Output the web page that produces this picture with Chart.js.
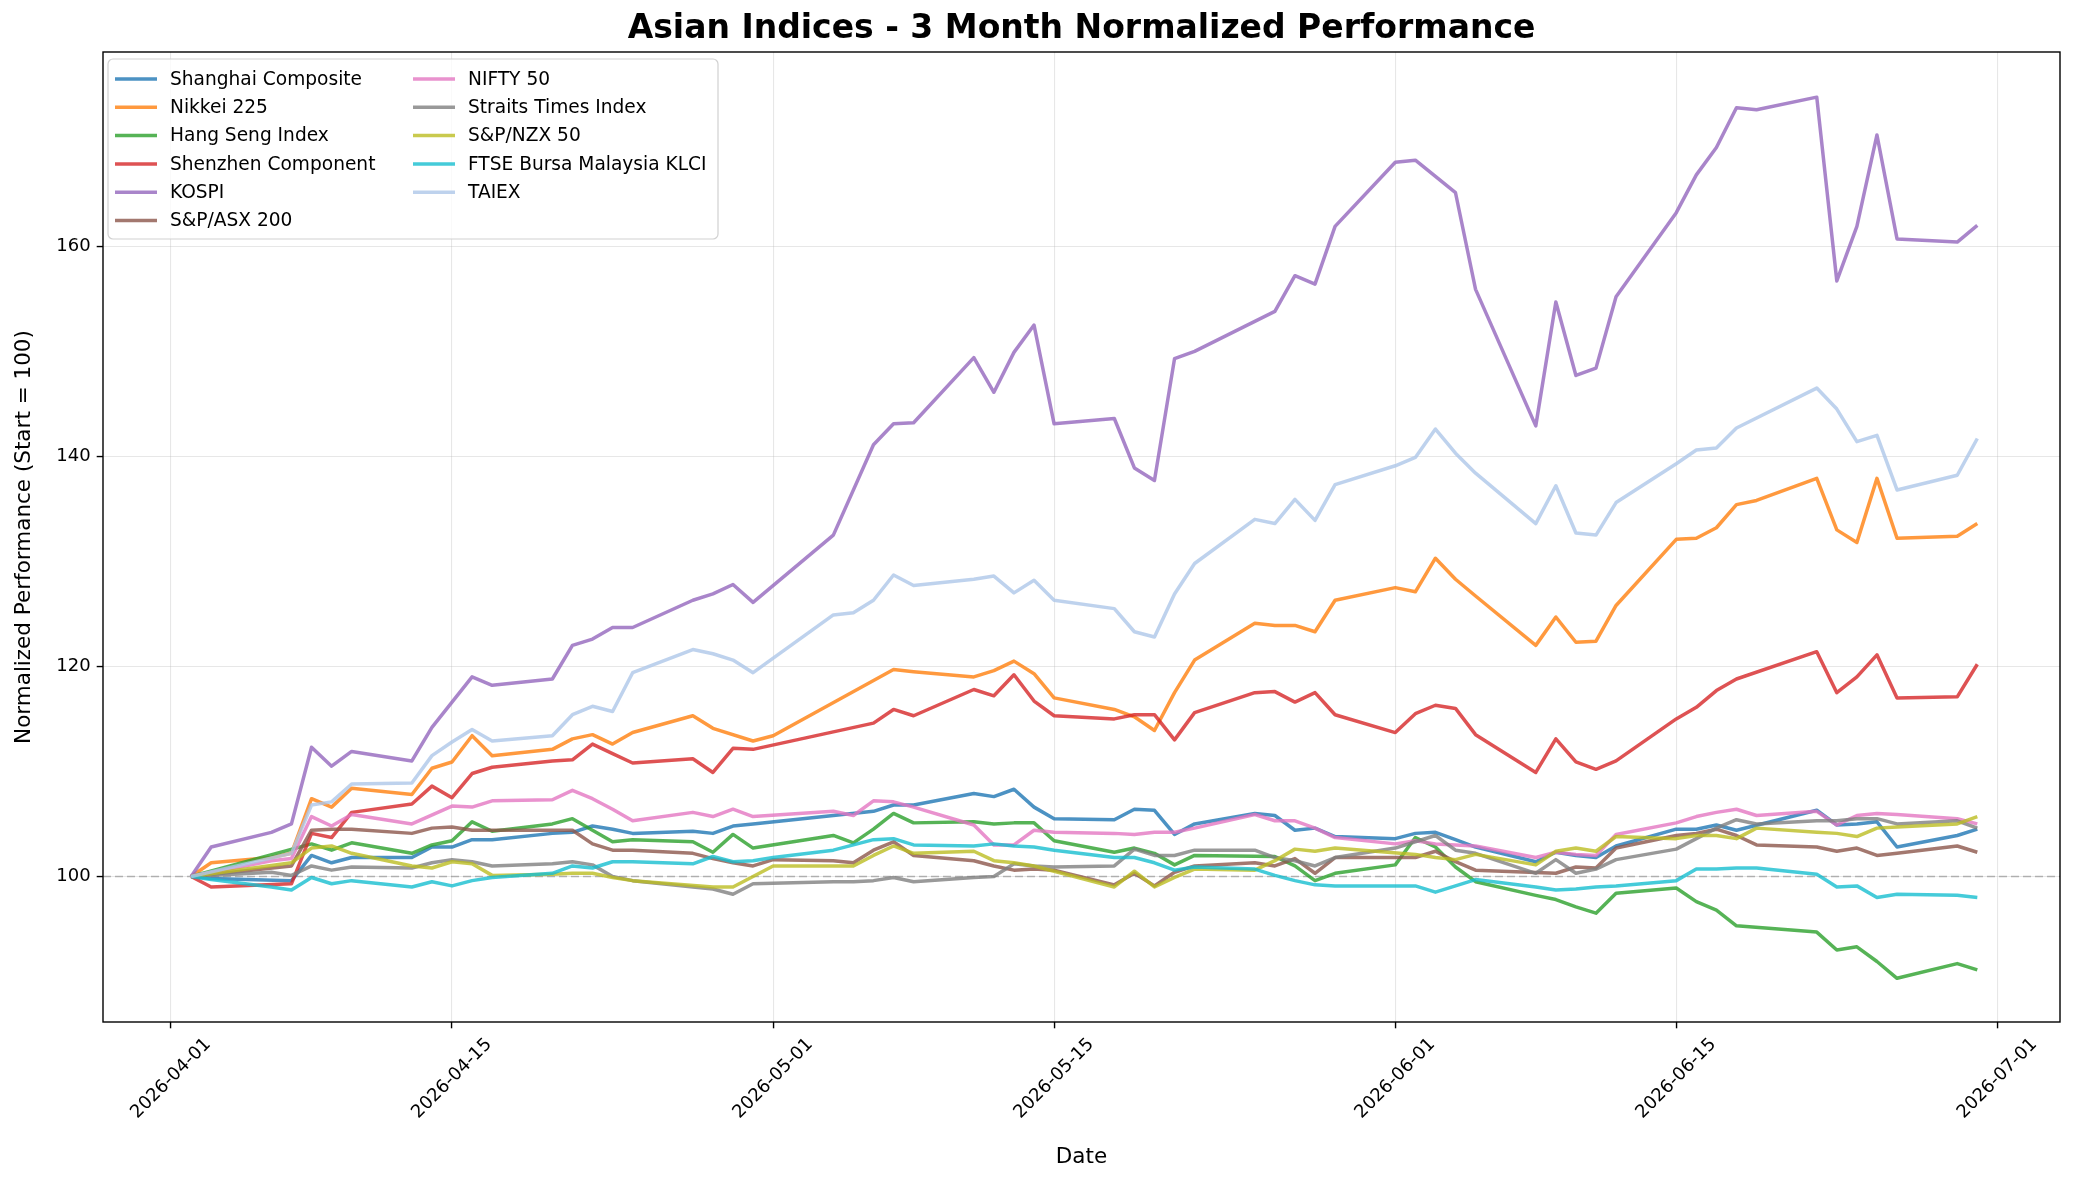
<!DOCTYPE html>
<html>
<head>
<meta charset="utf-8">
<script src="https://cdn.jsdelivr.net/npm/chart.js@4.4.1/dist/chart.umd.min.js"></script>
<style>
  body { margin: 0; background: #ffffff; }
  #chart { display: block; }
</style>
</head>
<body>
<canvas id="chart" width="2082" height="1184"></canvas>
<script>
// trading days (weekdays), null = market closed that day
const dates = [
    '2026-04-02', '2026-04-03', '2026-04-06', '2026-04-07', '2026-04-08', '2026-04-09', '2026-04-10',
    '2026-04-13', '2026-04-14', '2026-04-15', '2026-04-16', '2026-04-17', '2026-04-20', '2026-04-21',
    '2026-04-22', '2026-04-23', '2026-04-24', '2026-04-27', '2026-04-28', '2026-04-29', '2026-04-30',
    '2026-05-01', '2026-05-04', '2026-05-05', '2026-05-06', '2026-05-07', '2026-05-08', '2026-05-11',
    '2026-05-12', '2026-05-13', '2026-05-14', '2026-05-15', '2026-05-18', '2026-05-19', '2026-05-20',
    '2026-05-21', '2026-05-22', '2026-05-25', '2026-05-26', '2026-05-27', '2026-05-28', '2026-05-29',
    '2026-06-01', '2026-06-02', '2026-06-03', '2026-06-04', '2026-06-05', '2026-06-08', '2026-06-09',
    '2026-06-10', '2026-06-11', '2026-06-12', '2026-06-15', '2026-06-16', '2026-06-17', '2026-06-18',
    '2026-06-19', '2026-06-22', '2026-06-23', '2026-06-24', '2026-06-25', '2026-06-26', '2026-06-29',
    '2026-06-30'
];

const names = [
    'Shanghai Composite', 'Nikkei 225', 'Hang Seng Index', 'Shenzhen Component', 'KOSPI',
    'S&P/ASX 200', 'NIFTY 50', 'Straits Times Index', 'S&P/NZX 50', 'FTSE Bursa Malaysia KLCI', 'TAIEX'
];

const shanghai = [
    100, 99.8, null, 99.6, 102.0, 101.3, 101.8, 101.8, 102.8, 102.8, 103.5, 103.5, 104.1, 104.2, 104.8, 104.5, 104.1, 104.3, 104.1, 104.8, 105.0,
    null, null, null, 106.2, 106.8, 106.8, 107.9, 107.6, 108.3, 106.6, 105.5, 105.4, 106.4, 106.3, 104.0, 105.0, 106.0, 105.8, 104.4, 104.6, 103.8,
    103.6, 104.1, 104.2, 103.5, 102.8, 101.4, 102.3, 102.0, 101.8, 102.9, 104.5, 104.5, 104.9, 104.4, null, 106.3, 104.9, 105.0, 105.2, 102.8, 103.9, 104.5
];
const nikkei = [
    100, 101.3, 101.8, 102.2, 107.4, 106.6, 108.4, 107.8, 110.3, 110.9, 113.4, 111.5, 112.1, 113.1, 113.5, 112.6, 113.7, 115.3, 114.1, null, 112.9,
    113.4, null, null, null, 119.7, 119.5, 119.0, 119.6, 120.5, 119.3, 117.0, 115.9, 115.2, 113.9, 117.5, 120.6, 124.1, 123.9, 123.9, 123.3, 126.3,
    127.5, 127.1, 130.3, 128.3, 126.7, 122.0, 124.7, 122.3, 122.4, 125.8, 132.1, 132.2, 133.2, 135.4, 135.8, 137.9, 133.0, 131.8, 137.9, 132.2, 132.4, 133.6
];
const hangSeng = [
    100, null, null, null, 103.1, 102.5, 103.2, 102.2, 103.0, 103.4, 105.2, 104.3, 105.0, 105.5, 104.4, 103.3, 103.5, 103.3, 102.3, 104.0, 102.7,
    null, 103.9, 103.2, 104.5, 106.0, 105.1, 105.2, 105.0, 105.1, 105.1, 103.4, 102.3, 102.7, 102.2, 101.1, 102.0, null, 101.9, 101.0, 99.6, 100.3,
    101.1, 103.7, 102.8, 100.9, 99.5, 98.2, 97.8, 97.1, 96.5, 98.4, 98.9, 97.6, 96.8, 95.3, null, 94.7, 93.0, 93.3, 91.9, 90.3, 91.7, 91.1
];
const shenzhen = [
    100, 99.0, null, 99.3, 104.1, 103.7, 106.1, 106.9, 108.6, 107.5, 109.8, 110.4, 111.0, 111.1, 112.6, 111.7, 110.8, 111.2, 109.9, 112.2, 112.1,
    null, null, null, 114.6, 115.9, 115.3, 117.8, 117.2, 119.2, 116.7, 115.3, 115.0, 115.4, 115.4, 113.0, 115.6, 117.5, 117.6, 116.6, 117.5, 115.4,
    113.7, 115.5, 116.3, 116.0, 113.5, 109.9, 113.1, 110.9, 110.2, 111.0, 115.0, 116.1, 117.7, 118.8, null, 121.4, 117.5, 119.0, 121.1, 117.0, 117.1, 120.2
];
const kospi = [
    100, 102.8, 104.2, 105.0, 112.3, 110.5, 111.9, 111.0, 114.2, 116.6, 119.0, 118.2, 118.8, 122.0, 122.6, 123.7, 123.7, 126.3, 126.9, 127.8, 126.1,
    null, 132.5, null, 141.1, 143.1, 143.2, 149.4, 146.1, 149.9, 152.5, 143.1, 143.6, 138.9, 137.7, 149.3, 150.0, null, 153.8, 157.2, 156.4, 161.9,
    168.0, 168.2, null, 165.1, 155.9, 142.9, 154.7, 147.7, 148.4, 155.2, 163.2, 166.8, 169.4, 173.2, 173.0, 174.2, 156.7, 161.9, 170.6, 160.7, 160.4, 162.0
];
const asx200 = [
    100, null, null, 101.0, 104.4, 104.5, 104.5, 104.1, 104.6, 104.7, 104.4, 104.4, 104.4, 104.4, 103.1, 102.5, 102.5, 102.2, 101.7, 101.3, 101.0,
    101.6, 101.5, 101.3, 102.5, 103.3, 102.0, 101.5, 101.0, 100.6, 100.7, 100.6, 99.2, 100.3, 99.1, 100.4, 101.0, 101.3, 101.0, 101.7, 100.3, 101.8,
    101.8, 101.8, 102.4, 101.4, 100.6, null, 100.3, 100.9, 100.8, 102.7, 103.9, 104.1, 104.5, 103.9, 103.0, 102.8, 102.4, 102.7, 102.0, 102.2, 102.9, 102.3
];
const nifty50 = [
    100, null, 101.5, 101.7, 105.7, 104.8, 105.9, 105.0, null, 106.7, 106.6, 107.2, 107.3, 108.2, 107.4, 106.4, 105.3, 106.1, 105.7, 106.4, 105.7,
    null, 106.2, 105.8, 107.2, 107.1, 106.6, 104.9, 103.0, 103.0, 104.4, 104.2, 104.1, 104.0, 104.2, 104.2, 104.6, 105.9, 105.3, 105.3, 104.6, 103.7,
    103.1, 103.4, 103.1, 103.0, 102.9, 101.8, 102.3, 102.1, 102.0, 104.0, 105.1, 105.7, 106.1, 106.4, 105.8, 106.2, 104.9, 105.8, 106.0, 105.9, 105.5, 105.0
];
const straitsTimes = [
    100, null, 100.4, 100.1, 101.0, 100.6, 100.9, 100.8, 101.3, 101.6, 101.4, 101.0, 101.2, 101.4, 101.1, 100.0, 99.6, 99.0, 98.8, 98.3, 99.3,
    null, 99.5, 99.5, 99.6, 99.9, 99.5, 99.9, 100.0, 101.2, 101.0, 100.9, 101.0, 102.6, 102.0, 102.0, 102.5, 102.5, 101.8, 101.5, 101.0, 101.8,
    102.7, 103.3, 103.9, 102.5, 102.2, 100.3, 101.6, 100.3, 100.7, 101.6, 102.6, 103.6, 104.6, 105.4, 105.0, 105.3, 105.3, 105.5, 105.5, 105.0, 105.3, 104.6
];
const nzx50 = [
    100, null, null, 101.3, 102.7, 102.9, 102.2, 101.0, 100.8, 101.4, 101.2, 100.1, 100.2, 100.3, 100.3, 99.9, 99.6, null, 99.0, 99.0, 100.0,
    101.0, 101.0, 101.0, 102.0, 102.9, 102.2, 102.4, 101.5, 101.3, 101.0, 100.5, 99.0, 100.5, 99.0, 99.9, 100.7, 100.6, 101.5, 102.6, 102.4, 102.7,
    null, 102.1, 101.8, 101.6, 102.1, 101.1, 102.4, 102.7, 102.4, 103.8, 103.6, 103.9, 103.9, 103.6, 104.6, 104.2, 104.1, 103.8, 104.6, 104.7, 105.0, 105.7
];
const klci = [
    100, 99.7, 99.0, 98.7, 99.9, 99.3, 99.6, 99.0, 99.5, 99.1, 99.6, 99.9, 100.3, 101.0, 100.8, 101.4, 101.4, 101.2, 101.9, 101.4, 101.5,
    101.8, 102.5, 103.0, 103.5, 103.6, 103.0, 102.9, 103.1, 102.9, 102.8, 102.5, 101.8, 101.8, 101.3, 100.6, 100.9, 100.7, 100.1, 99.6, 99.2, 99.1,
    99.1, 99.1, 98.5, 99.1, 99.7, 99.0, 98.7, 98.8, 99.0, 99.1, 99.6, 100.7, 100.7, 100.8, 100.8, 100.2, 99.0, 99.1, 98.0, 98.3, 98.2, 98.0
];
const taiex = [
    100, null, null, 102.2, 106.8, 107.1, 108.8, 108.9, 111.5, 112.8, 114.0, 112.9, 113.4, 115.4, 116.2, 115.7, 119.4, 121.6, 121.2, 120.6, 119.4,
    null, 124.9, 125.1, 126.3, 128.7, 127.7, 128.3, 128.6, 127.0, 128.2, 126.3, 125.5, 123.3, 122.8, 126.9, 129.8, 134.0, 133.6, 135.9, 133.9, 137.3,
    139.1, 139.9, 142.6, 140.3, 138.4, 133.6, 137.2, 132.7, 132.5, 135.6, 139.3, 140.6, 140.8, 142.7, null, 146.5, 144.5, 141.4, 142.0, 136.8, 138.2, 141.7
];

const seriesValues = [shanghai, nikkei, hangSeng, shenzhen, kospi, asx200, nifty50, straitsTimes, nzx50, klci, taiex];
const colors = ['#1f77b4', '#ff7f0e', '#2ca02c', '#d62728', '#9467bd', '#8c564b', '#e377c2', '#7f7f7f', '#bcbd22', '#17becf', '#aec7e8'];

const xTickLabels = ['2026-04-01', '2026-04-15', '2026-05-01', '2026-05-15', '2026-06-01', '2026-06-15', '2026-07-01'];
const yTicks = [100, 120, 140, 160];

// days counted from 2026-04-01
const origin = Date.UTC(2026, 3, 1);
const dayOf = (s) => {
    const p = s.split('-').map(Number);
    return (Date.UTC(p[0], p[1] - 1, p[2]) - origin) / 86400000;
};

const withAlpha = (hex, a) => {
    const n = parseInt(hex.slice(1), 16);
    return `rgba(${(n >> 16) & 255}, ${(n >> 8) & 255}, ${n & 255}, ${a})`;
};

const FONT = '"DejaVu Sans", sans-serif';

const datasets = names.map((name, i) => ({
    label: name,
    data: dates.map((d, j) => ({ x: dayOf(d), y: seriesValues[i][j] })),
    borderColor: withAlpha(colors[i], 0.8),
    backgroundColor: withAlpha(colors[i], 0.8),
    borderWidth: 3.5,
    pointRadius: 0,
    tension: 0,
    spanGaps: true,
    borderJoinStyle: 'round',
    order: names.length - 1 - i
}));

// extra drawing: reference line, frame, titles, rotated date labels, legend
const decor = {
    id: 'decor',
    beforeDatasetsDraw(chart) {
        const { ctx, chartArea: a, scales: { y } } = chart;
        const py = y.getPixelForValue(100);
        ctx.save();
        ctx.strokeStyle = 'rgba(128, 128, 128, 0.55)';
        ctx.lineWidth = 1.6;
        ctx.setLineDash([8, 4]);
        ctx.beginPath();
        ctx.moveTo(a.left, py);
        ctx.lineTo(a.right, py);
        ctx.stroke();
        ctx.restore();
    },
    afterDraw(chart) {
        const { ctx, chartArea: a, scales: { x } } = chart;
        ctx.save();

        // frame
        ctx.strokeStyle = '#000';
        ctx.lineWidth = 1.4;
        ctx.strokeRect(a.left, a.top, a.right - a.left, a.bottom - a.top);

        ctx.fillStyle = '#000';
        const cx = (a.left + a.right) / 2;

        // title
        ctx.font = `bold 33px ${FONT}`;
        ctx.textAlign = 'center';
        ctx.textBaseline = 'middle';
        ctx.fillText('Asian Indices - 3 Month Normalized Performance', cx, 29);

        // axis labels
        ctx.font = `21.5px ${FONT}`;
        ctx.fillText('Date', cx, 1157);
        ctx.save();
        ctx.translate(24, (a.top + a.bottom) / 2);
        ctx.rotate(-Math.PI / 2);
        ctx.fillText('Normalized Performance (Start = 100)', 0, 0);
        ctx.restore();

        // x tick labels, rotated 45 degrees, centered under the tick
        ctx.font = `18px ${FONT}`;
        xTickLabels.forEach((lab) => {
            const px = x.getPixelForValue(dayOf(lab));
            const w = ctx.measureText(lab).width;
            const h = 20;
            const half = (w + h) * Math.SQRT1_2 / 2;
            ctx.save();
            ctx.translate(px, a.bottom + 12.6 + half);
            ctx.rotate(-Math.PI / 4);
            ctx.fillText(lab, 0, 0);
            ctx.restore();
        });

        // legend, two columns
        const lx = a.left + 5, ly = a.top + 7, lw = 610, lh = 180;
        ctx.beginPath();
        ctx.roundRect(lx, ly, lw, lh, 5);
        ctx.fillStyle = 'rgba(255, 255, 255, 0.8)';
        ctx.fill();
        ctx.strokeStyle = 'rgba(204, 204, 204, 0.9)';
        ctx.lineWidth = 1.2;
        ctx.stroke();

        ctx.font = `18.6px ${FONT}`;
        ctx.textAlign = 'left';
        ctx.textBaseline = 'middle';
        names.forEach((name, i) => {
            const col = i < 6 ? 0 : 1;
            const row = i < 6 ? i : i - 6;
            const sx = col === 0 ? 115 : 413;
            const sy = 79 + row * 28.3;
            ctx.strokeStyle = withAlpha(colors[i], 0.8);
            ctx.lineWidth = 3.5;
            ctx.beginPath();
            ctx.moveTo(sx, sy);
            ctx.lineTo(sx + 42, sy);
            ctx.stroke();
            ctx.fillStyle = '#000';
            ctx.fillText(name, sx + 55, sy + 1);
        });

        ctx.restore();
    }
};

new Chart(document.getElementById('chart'), {
    type: 'line',
    data: { datasets },
    options: {
        responsive: false,
        animation: false,
        devicePixelRatio: 1,
        layout: { padding: { top: 52, right: 22, bottom: 0, left: 0 } },
        plugins: {
            legend: { display: false },
            title: { display: false },
            tooltip: { enabled: false }
        },
        scales: {
            x: {
                type: 'linear',
                min: -3.39,
                max: 94.12,
                afterBuildTicks: (scale) => {
                    scale.ticks = xTickLabels.map((t) => ({ value: dayOf(t) }));
                },
                afterFit: (scale) => { scale.height = 162; },
                ticks: { display: false },
                border: { display: false },
                grid: {
                    color: 'rgba(176, 176, 176, 0.3)',
                    lineWidth: 1.1,
                    tickColor: '#000',
                    tickWidth: 1.4,
                    tickLength: 6.3
                }
            },
            y: {
                min: 86.14,
                max: 178.5,
                afterBuildTicks: (scale) => {
                    scale.ticks = yTicks.map((v) => ({ value: v }));
                },
                afterFit: (scale) => { scale.width = 103; },
                ticks: {
                    color: '#000',
                    padding: 6,
                    font: { family: FONT, size: 18 }
                },
                border: { display: false },
                grid: {
                    color: 'rgba(176, 176, 176, 0.3)',
                    lineWidth: 1.1,
                    tickColor: '#000',
                    tickWidth: 1.4,
                    tickLength: 6.3
                }
            }
        }
    },
    plugins: [decor]
});
</script>
</body>
</html>
